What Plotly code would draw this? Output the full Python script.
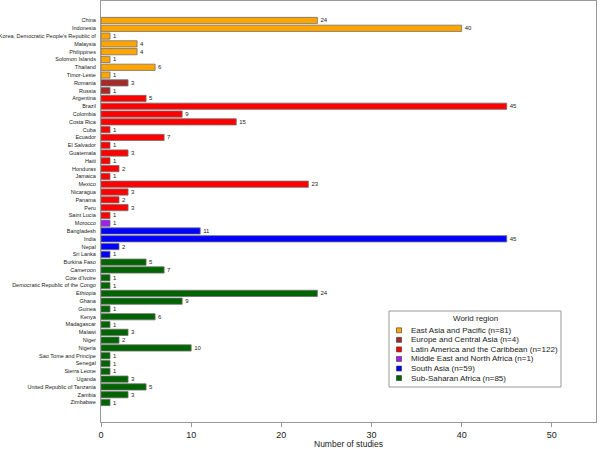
import plotly.graph_objects as go

countries = [
    "China", "Indonesia", "Korea, Democratic People's Republic of", "Malaysia", "Philippines",
    "Solomon Islands", "Thailand", "Timor-Leste",
    "Romania", "Russia",
    "Argentina", "Brazil", "Colombia", "Costa Rica", "Cuba", "Ecuador", "El Salvador",
    "Guatemala", "Haiti", "Honduras", "Jamaica", "Mexico", "Nicaragua", "Panama", "Peru",
    "Saint Lucia",
    "Morocco",
    "Bangladesh", "India", "Nepal", "Sri Lanka",
    "Burkina Faso", "Cameroon", "Cote d'Ivoire", "Democratic Republic of the Congo", "Ethiopia",
    "Ghana", "Guinea", "Kenya", "Madagascar", "Malawi", "Niger", "Nigeria",
    "Sao Tome and Principe", "Senegal", "Sierra Leone", "Uganda", "United Republic of Tanzania",
    "Zambia", "Zimbabwe",
]
studies = [
    24, 40, 1, 4, 4, 1, 6, 1,
    3, 1,
    5, 45, 9, 15, 1, 7, 1, 3, 1, 2, 1, 23, 3, 2, 3, 1,
    1,
    11, 45, 2, 1,
    5, 7, 1, 1, 24, 9, 1, 6, 1, 3, 2, 10, 1, 1, 1, 3, 5, 3, 1,
]
regions = (
    ["East Asia and Pacific"] * 8
    + ["Europe and Central Asia"] * 2
    + ["Latin America and the Caribbean"] * 16
    + ["Middle East and North Africa"] * 1
    + ["South Asia"] * 4
    + ["Sub-Saharan Africa"] * 19
)
region_names = [
    "East Asia and Pacific", "Europe and Central Asia", "Latin America and the Caribbean",
    "Middle East and North Africa", "South Asia", "Sub-Saharan Africa",
]
region_n = [81, 4, 122, 1, 59, 85]
region_colors = ["#FFA500", "#A52A2A", "#FF0000", "#A020F0", "#0000FF", "#006400"]

FONT = "Liberation Sans, Arial, sans-serif"

fig = go.Figure()
for name, n, col in zip(region_names, region_n, region_colors):
    ys = [c for c, r in zip(countries, regions) if r == name]
    xs = [v for v, r in zip(studies, regions) if r == name]
    fig.add_trace(go.Bar(
        x=xs, y=ys, orientation="h", name=f"{name} (n={n})",
        marker=dict(color=col, line=dict(color="#707070", width=0.8)),
        width=0.8,
        text=[str(v) for v in xs], textposition="outside",
        textfont=dict(size=6, color="#222222"), constraintext="none",
        cliponaxis=False, showlegend=False,
    ))

# custom compact legend (paper coordinates of the plot area)
PX_L, PX_R, PY_T, PY_B = 101, 596, 1, 422
def px(x):
    return (x - PX_L) / (PX_R - PX_L)
def py(y):
    return (PY_B - y) / (PY_B - PY_T)

shapes = [dict(type="rect", xref="paper", yref="paper",
               x0=px(389), x1=px(561), y0=py(387), y1=py(311),
               line=dict(color="#999999", width=1), fillcolor="white", layer="above")]
annotations = [dict(text="World region", xref="paper", yref="paper",
                    x=px(475), y=py(318), showarrow=False, xanchor="center", yanchor="middle",
                    font=dict(size=8, family=FONT, color="#222222"))]
for i, (name, n, col) in enumerate(zip(region_names, region_n, region_colors)):
    yc = 330.3 + i * 9.55
    shapes.append(dict(type="rect", xref="paper", yref="paper",
                       x0=px(396.5), x1=px(401.5), y0=py(yc + 2.5), y1=py(yc - 2.5),
                       line=dict(color="#333333", width=0.6), fillcolor=col, layer="above"))
    annotations.append(dict(text=f"{name} (n={n})", xref="paper", yref="paper",
                            x=px(409), y=py(yc), showarrow=False, xanchor="left", yanchor="middle",
                            font=dict(size=8, family=FONT, color="#222222")))

fig.update_layout(
    width=600, height=449,
    margin=dict(l=PX_L, r=600 - PX_R, t=PY_T, b=449 - PY_B),
    paper_bgcolor="white", plot_bgcolor="white",
    font=dict(family=FONT, color="#222222"),
    barmode="overlay",
    showlegend=False,
    shapes=shapes,
    annotations=annotations,
    xaxis=dict(
        range=[0, 54.9], tickvals=[0, 10, 20, 30, 40, 50],
        showgrid=False, zeroline=False, automargin=False,
        showline=True, linecolor="#999999", linewidth=1, mirror=True,
        ticks="outside", ticklen=4, tickcolor="#999999",
        tickfont=dict(size=9),
        title=dict(text="Number of studies", font=dict(size=8.5), standoff=2),
    ),
    yaxis=dict(
        categoryorder="array", categoryarray=countries,
        tickmode="linear", dtick=1,
        range=[51.5, -2.5], automargin=False,
        showgrid=False, zeroline=False,
        showline=True, linecolor="#999999", linewidth=1, mirror=True,
        ticks="", tickfont=dict(size=5.5), ticklabelstandoff=3,
    ),
)
fig.write_html(
    "out.html",
    config={"displayModeBar": False},
    post_script="document.body.style.margin='0';document.body.style.overflow='hidden';",
)
